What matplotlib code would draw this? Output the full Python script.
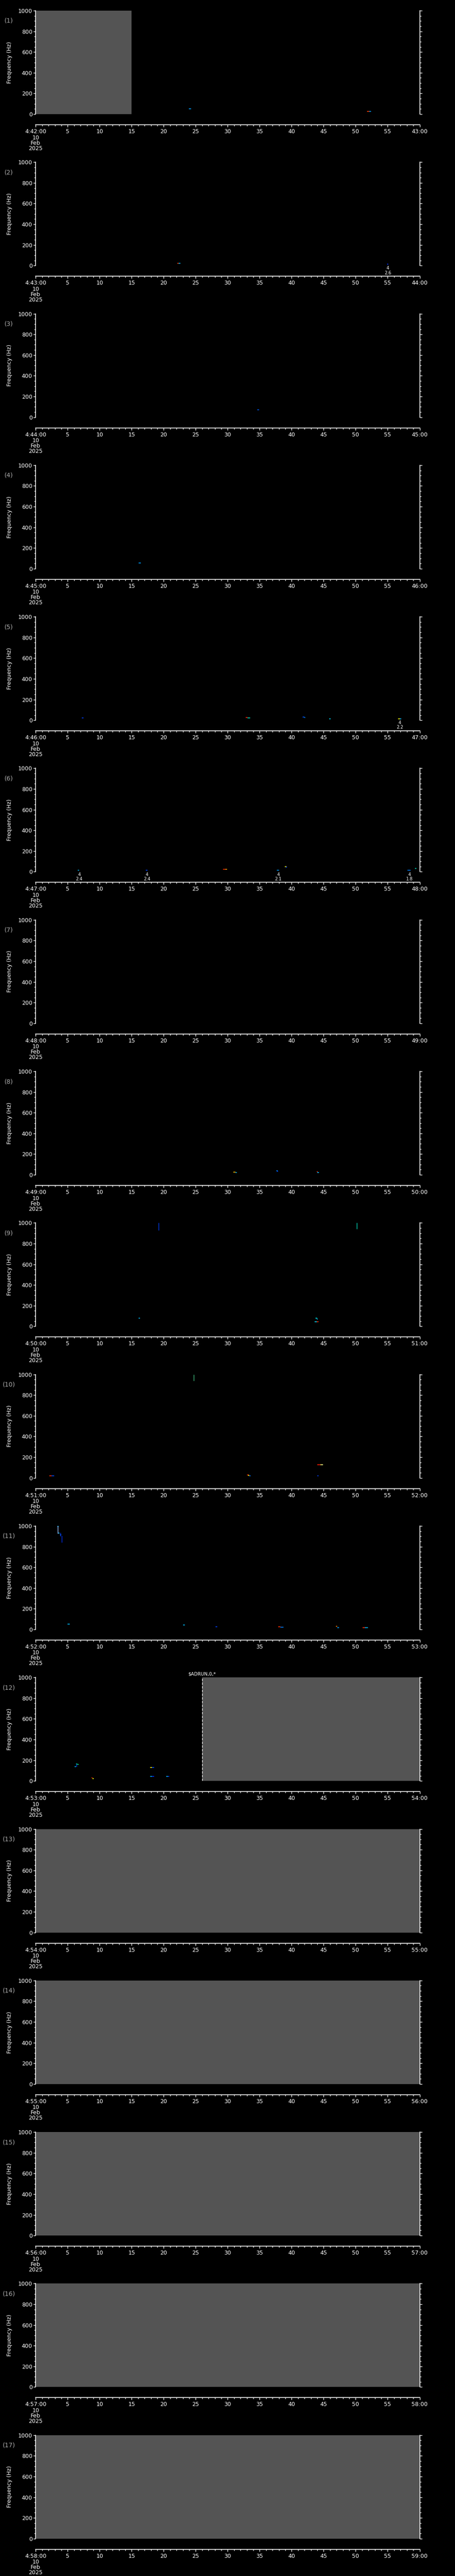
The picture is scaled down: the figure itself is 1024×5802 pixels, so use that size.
import matplotlib
matplotlib.use("Agg")
import matplotlib.pyplot as plt
from matplotlib.ticker import MultipleLocator

# panels: one minute each, starting 4:42 on 10 Feb 2025
start_minutes = list(range(42, 59))

# grey "no data" spans: panel, t0, t1 (seconds)
gaps = [(1, 0, 15), (12, 26, 60), (13, 0, 60), (14, 0, 60),
        (15, 0, 60), (16, 0, 60), (17, 0, 60)]

# short horizontal spectrogram specks: panel, t0, t1, freq, colour
dashes = [
    (1, 23.9, 24.3, 50, '#00a0ff'), (1, 51.8, 52.1, 24, '#ff4000'),
    (1, 52.1, 52.4, 24, '#00a0ff'),
    (2, 22.1, 22.35, 23, '#ff4000'), (2, 22.35, 22.6, 23, '#00c0ff'),
    (2, 54.9, 55.1, 14, '#0030ff'),
    (3, 34.6, 34.9, 70, '#0060ff'),
    (4, 16.1, 16.4, 56, '#00a0ff'),
    (5, 7.2, 7.5, 23, '#0040ff'), (5, 32.8, 33.1, 27, '#ff2000'),
    (5, 33.1, 33.5, 23, '#00e0c0'), (5, 41.7, 42.0, 30, '#0050ff'),
    (5, 42.0, 42.1, 26, '#00a0ff'), (5, 45.9, 46.1, 14, '#00e0ff'),
    (5, 56.6, 56.9, 14, '#ffff00'), (5, 56.9, 57.1, 14, '#00c0ff'),
    (6, 6.6, 6.8, 14, '#00c0ff'), (6, 17.2, 17.5, 14, '#0040ff'),
    (6, 29.3, 29.6, 23, '#ff3000'), (6, 29.6, 29.9, 23, '#ffa000'),
    (6, 37.7, 38.0, 14, '#00a0ff'), (6, 38.9, 39.2, 50, '#ffff00'),
    (6, 39.1, 39.3, 45, '#0040ff'), (6, 58.1, 58.6, 14, '#0080ff'),
    (6, 59.3, 59.5, 32, '#00e0c0'),
    (8, 30.9, 31.2, 26, '#ffc000'), (8, 31.2, 31.4, 22, '#00c0ff'),
    (8, 37.6, 37.8, 38, '#00a0ff'), (8, 37.7, 37.9, 35, '#0040ff'),
    (8, 43.9, 44.1, 30, '#ff3000'), (8, 44.0, 44.3, 23, '#00c0ff'),
    (9, 16.1, 16.3, 79, '#00c0ff'), (9, 43.7, 44.0, 77, '#00e0e0'),
    (9, 43.9, 44.1, 72, '#00c0ff'), (9, 43.6, 43.9, 43, '#00e0ff'),
    (9, 43.9, 44.2, 43, '#ff3000'),
    (10, 2.1, 2.5, 19, '#ff3000'), (10, 2.5, 2.9, 19, '#0050ff'),
    (10, 33.0, 33.3, 28, '#ff2000'), (10, 33.2, 33.4, 24, '#ffff00'),
    (10, 33.4, 33.6, 19, '#0080ff'), (10, 44.0, 44.5, 126, '#ff2000'),
    (10, 44.5, 44.9, 126, '#ffff80'), (10, 44.0, 44.2, 19, '#0040ff'),
    (11, 3.4, 3.6, 995, '#00c0ff'), (11, 3.5, 3.75, 930, '#00c0ff'),
    (11, 3.8, 4.0, 915, '#0060ff'),
    (11, 5.0, 5.3, 52, '#00c0ff'), (11, 23.0, 23.3, 43, '#00c0ff'),
    (11, 28.1, 28.4, 26, '#0040ff'), (11, 37.9, 38.2, 27, '#ff3000'),
    (11, 38.2, 38.7, 23, '#0080ff'), (11, 46.9, 47.1, 28, '#ff8000'),
    (11, 47.1, 47.4, 19, '#00a0ff'), (11, 51.1, 51.4, 19, '#ff3000'),
    (11, 51.4, 51.9, 19, '#00c0ff'),
    (12, 6.3, 6.5, 165, '#00e0a0'), (12, 6.5, 6.7, 160, '#00ff80'),
    (12, 6.1, 6.3, 140, '#00c0ff'),
    (12, 8.7, 8.9, 30, '#ff2000'), (12, 8.9, 9.1, 24, '#ffff00'),
    (12, 17.9, 18.2, 129, '#ffff00'), (12, 18.2, 18.5, 129, '#0050ff'),
    (12, 17.9, 18.2, 43, '#00c0ff'), (12, 18.2, 18.5, 43, '#0030ff'),
    (12, 20.4, 20.7, 43, '#00c0ff'), (12, 20.7, 20.9, 43, '#0030ff'),
]

# vertical streaks: panel, t, f0, f1, colour
streaks = [
    (9, 19.2, 930, 1000, '#0040ff'), (9, 50.2, 943, 1000, '#00e0c0'),
    (10, 24.7, 940, 1000, '#40c080'),
    (11, 3.45, 925, 1000, '#a0c0ff'), (11, 3.9, 900, 935, '#0040ff'),
    (11, 4.1, 840, 905, '#0030ff'),
    (12, 6.35, 140, 165, '#0040ff'),
]

# event markers under the plot: panel, t, lower label
events = [(2, 55.0, '2.6'), (5, 56.9, '2.2'), (6, 6.8, '2.4'),
          (6, 17.4, '2.4'), (6, 37.9, '2.1'), (6, 58.4, '1.8')]

# dashed marker line with label: panel, t, text
marks = [(12, 26, '$ADRUN,0,*')]

W, H = 1024, 5802
PH = H / 17.0
fig = plt.figure(figsize=(W / 100, H / 100), dpi=100, facecolor='black')
plt.rcParams['font.family'] = 'DejaVu Sans'

for k, m in enumerate(start_minutes):
    p = k + 1
    top = k * PH + 24
    bot = k * PH + 257
    ax = fig.add_axes([80.3 / W, 1 - bot / H, 864.2 / W, (bot - top) / H])
    ax.set_facecolor('black')
    ax.set_xlim(0, 60)
    ax.set_ylim(0, 1000)
    ax.spines['top'].set_visible(False)
    for s in ['left', 'right', 'bottom']:
        ax.spines[s].set_color('white')
        ax.spines[s].set_linewidth(1.2)
    ax.spines['bottom'].set_position(('outward', 24 * 0.72))

    ax.yaxis.set_major_locator(MultipleLocator(200))
    ax.yaxis.set_minor_locator(MultipleLocator(50))
    ax.tick_params(axis='y', which='both', left=True, right=True,
                   direction='out', colors='white', labelsize=9, pad=2)
    ax.tick_params(axis='y', which='major', length=3.5, width=1)
    ax.tick_params(axis='y', which='minor', length=2.2, width=1)

    ax.xaxis.set_major_locator(MultipleLocator(5))
    ax.xaxis.set_minor_locator(MultipleLocator(1))
    ax.tick_params(axis='x', which='both', direction='out', colors='white',
                   labelsize=9, pad=3)
    ax.tick_params(axis='x', which='major', length=3.5, width=1)
    ax.tick_params(axis='x', which='minor', length=2, width=1)
    labels = ['4:%02d:00' % m] + [str(s) for s in range(5, 60, 5)] + ['%02d:00' % (m + 1)]
    ax.set_xticks(range(0, 61, 5))
    ax.set_xticklabels(labels)
    tr = ax.get_xaxis_transform()
    for i, line in enumerate(['10', 'Feb', '2025']):
        ax.text(0, -(310 - 257 + 12 * i) / 233.0, line, transform=tr,
                color='white', fontsize=9, ha='center', va='center')

    for g in gaps:
        if g[0] == p:
            ax.axvspan(g[1], g[2], color='#545454', lw=0)
    for d in dashes:
        if d[0] == p:
            ax.hlines(d[3], d[1], d[2], colors=d[4], lw=1.2)
    for v in streaks:
        if v[0] == p:
            ax.vlines(v[1], v[2], v[3], colors=v[4], lw=1.0)
    for e in events:
        if e[0] == p:
            ax.text(e[1], -0.026, '4', transform=tr, color='white',
                    fontsize=7, ha='center', va='center')
            ax.text(e[1], -0.07, e[2], transform=tr, color='white',
                    fontsize=7, ha='center', va='center')
    for mk in marks:
        if mk[0] == p:
            ax.axvline(mk[1], color='white', lw=1, ls=(0, (4, 2)))
            ax.text(mk[1], 1.035, mk[2], transform=tr,
                    color='white', fontsize=7.5, ha='center', va='center')

    fig.text(20 / W, 1 - (k * PH + 47) / H, '(%d)' % p, color='#aaaaaa',
             fontsize=10, ha='center', va='center')
    fig.text(22 / W, 1 - (k * PH + 140.5) / H, 'Frequency (Hz)', color='white',
             fontsize=9, rotation=90, ha='center', va='center')

fig.savefig('out.png', dpi=100, facecolor='black')
